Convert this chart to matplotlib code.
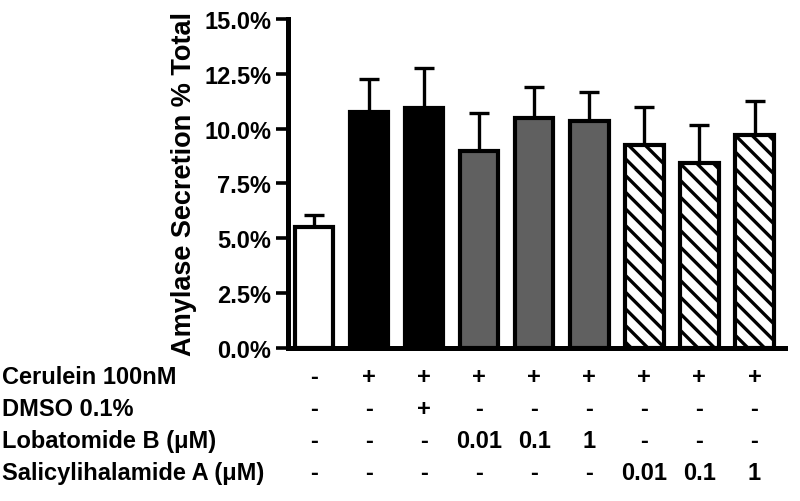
import matplotlib
matplotlib.use('Agg')
import numpy as np
import matplotlib.pyplot as plt
from matplotlib.ticker import FuncFormatter

# bar heights and upper SEM (percent of total)
values = [5.53, 10.74, 10.96, 8.98, 10.50, 10.35, 9.26, 8.43, 9.71]
errors = [0.53, 1.52, 1.81, 1.73, 1.39, 1.32, 1.71, 1.75, 1.55]
groups = ['ctrl', 'cer', 'cer', 'lob', 'lob', 'lob', 'sal', 'sal', 'sal']

row_labels = ['Cerulein 100nM', 'DMSO 0.1%', 'Lobatomide B (\u03bcM)', 'Salicylihalamide A (\u03bcM)']
row_cells = [
    ['-', '+', '+', '+', '+', '+', '+', '+', '+'],
    ['-', '-', '+', '-', '-', '-', '-', '-', '-'],
    ['-', '-', '-', '0.01', '0.1', '1', '-', '-', '-'],
    ['-', '-', '-', '-', '-', '-', '0.01', '0.1', '1'],
]

plt.rcParams['font.family'] = ['Liberation Sans', 'DejaVu Sans']
plt.rcParams['hatch.linewidth'] = 2.4

fig = plt.figure(figsize=(8, 5.02), dpi=100)
ax = fig.add_axes([0.36, 0.305, 0.621, 0.655])

ind = np.arange(len(values))
face = {'ctrl': 'white', 'cer': 'black', 'lob': '#606060', 'sal': 'white'}
hatch = {'ctrl': None, 'cer': None, 'lob': None, 'sal': '\\\\'}

for i in ind:
    g = groups[i]
    ax.bar(i, values[i], 0.7, color=face[g], edgecolor='black', linewidth=3,
           hatch=hatch[g], zorder=2)
ax.errorbar(ind, values, yerr=[np.zeros(len(errors)), errors], fmt='none',
            ecolor='black', elinewidth=2.4, capsize=7.5, capthick=2.4, zorder=1)

ax.set_xlim(-0.47, 8.55)
ax.set_ylim(0, 15)
ax.set_yticks(np.arange(0, 15.1, 2.5))
ax.yaxis.set_major_formatter(FuncFormatter(lambda v, p: '{:.1f}%'.format(v)))
ax.set_xticks([])
for s in ['top', 'right']:
    ax.spines[s].set_visible(False)
for s in ['left', 'bottom']:
    ax.spines[s].set_linewidth(3.6)
ax.tick_params(axis='y', length=9, width=2.6, labelsize=17, pad=3)
for t in ax.get_yticklabels():
    t.set_fontweight('bold')
ax.set_ylabel('Amylase Secretion % Total', fontsize=19.5, fontweight='bold', labelpad=5)

# treatment table under the bars
row_y = [-0.088, -0.185, -0.283, -0.380]
tr = ax.get_xaxis_transform()
for r, lab in enumerate(row_labels):
    fig.text(0.002, 0.305 + row_y[r] * 0.655, lab, ha='left', va='center',
             fontsize=17, fontweight='bold')
    for i, c in enumerate(row_cells[r]):
        ax.text(i, row_y[r], c, transform=tr, ha='center', va='center',
                fontsize=17, fontweight='bold', clip_on=False)

plt.savefig('out.png', dpi=100)
